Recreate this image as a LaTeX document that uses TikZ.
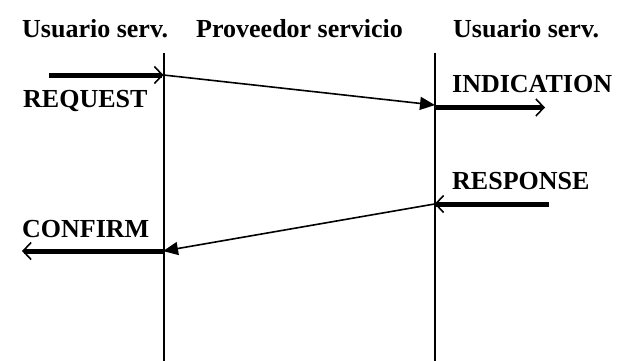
\documentclass[tikz,border=0pt]{standalone}
\usepackage{fontspec}
\setmainfont{Liberation Serif}
\usetikzlibrary{arrows.meta}
\tikzset{
  lbl/.style={anchor=base west, inner sep=0pt, font=\fontsize{26}{30}\selectfont\bfseries},
  lifeline/.style={line width=2pt},
  prim/.style={line width=5pt, -{Straight Barb[length=8pt,width=17pt,line width=1.6pt]}},
  primr/.style={line width=5pt, {Straight Barb[length=8pt,width=17pt,line width=1.6pt]}-},
  msg/.style={line width=1.6pt, -{Triangle[length=15pt,width=13pt]}, shorten >=-0.5pt}
}
\begin{document}
\begin{tikzpicture}[x=1pt,y=-1pt]
\useasboundingbox (0,0) rectangle (621,360);
% headers
\node[lbl] (h1) at (22,37) {Usuario serv.};
\node[lbl] (h2) at (196,37) {Proveedor servicio};
\node[lbl] (h3) at (453,37) {Usuario serv.};
% lifelines
\coordinate (a0) at (163.5,53);
\coordinate (a1) at (163.5,361);
\coordinate (b0) at (434.5,53);
\coordinate (b1) at (434.5,361);
\draw[lifeline] (a0) -- (a1);
\draw[lifeline] (b0) -- (b1);
% points
\coordinate (reqS) at (49,75);
\coordinate (reqE) at (163.5,75);
\coordinate (indS) at (434.5,105);
\coordinate (ind0) at (434.5,107.5);
\coordinate (indE) at (545,107.5);
\coordinate (resS) at (549,204);
\coordinate (resE) at (434.5,204);
\coordinate (conS) at (163.5,251);
\coordinate (conE) at (22,251);
% primitives
\draw[prim] (reqS) -- (reqE);
\draw[msg] (reqE) -- (indS);
\draw[prim] (ind0) -- (indE);
\draw[primr] (resE) -- (resS);
\draw[msg] (resE) -- (conS);
\draw[prim] (conS) -- (conE);
% labels
\node[lbl] (lreq) at (23,107) {REQUEST};
\node[lbl] (lind) at (452,92) {INDICATION};
\node[lbl] (lres) at (452,189) {RESPONSE};
\node[lbl] (lcon) at (22,237) {CONFIRM};
\end{tikzpicture}
\end{document}
